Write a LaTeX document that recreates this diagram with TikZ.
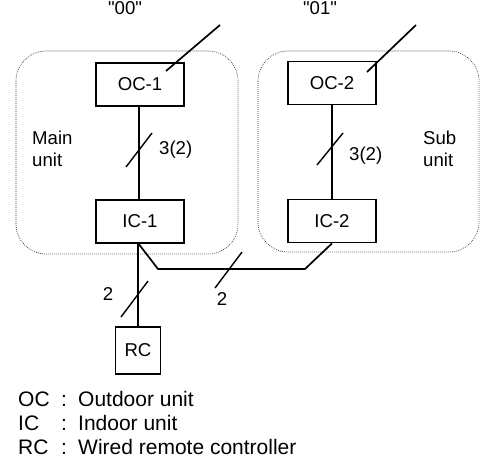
\documentclass[tikz,border=0pt]{standalone}
\usepackage{fontspec}
\setmainfont{Liberation Sans}
\newfontfamily\rawfont{Liberation Sans}[Ligatures=ResetAll]
\begin{document}
\begin{tikzpicture}[x=1pt,y=-1pt,
  unitbox/.style={draw, line width=1.7pt, minimum width=88pt, minimum height=43pt, inner sep=0pt, font=\fontsize{18.6}{22}\selectfont},
  wire/.style={line width=1.7pt},
  tick/.style={line width=1.4pt},
  grp/.style={draw=black!80, line width=0.7pt, dash pattern=on 0.8pt off 1.2pt, rounded corners=30pt},
  lbl/.style={inner sep=0pt, font=\fontsize{18.6}{22}\selectfont},
  leg/.style={inner sep=0pt, anchor=base west, font=\fontsize{21}{24}\selectfont}]
\useasboundingbox (0,0) rectangle (481,461);
% group outlines
\draw[grp] (16,51) rectangle (238,254);
\draw[grp] (258,51) rectangle (479,252);
% address labels
\node[lbl, anchor=base] (a00) at (125,14) {\rawfont "00"};
\node[lbl, anchor=base] (a01) at (320,14) {\rawfont "01"};
% units
\node[unitbox] (oc1) at (140,84.5) {OC-1};
\node[unitbox] (oc2) at (332,83) {OC-2};
\node[unitbox] (ic1) at (140,221.5) {IC-1};
\node[unitbox] (ic2) at (332,221) {IC-2};
\node[draw, line width=1.7pt, minimum width=45pt, minimum height=47pt, inner sep=0pt, font=\fontsize{18.6}{22}\selectfont] (rc) at (138,350.5) {RC};
% group names
\node[lbl, anchor=base west] (mainu) at (32,144) {Main};
\node[lbl, anchor=base west] (mainu2) at (32,166) {unit};
\node[lbl, anchor=base west] (subu) at (423,144) {Sub};
\node[lbl, anchor=base west] (subu2) at (423,166) {unit};
% outgoing transmission lines
\coordinate (t1a) at (166,71);
\coordinate (t1b) at (220,25);
\coordinate (t2a) at (367,72);
\coordinate (t2b) at (416,25);
\draw[wire] (t1a) -- (t1b);
\draw[wire] (t2a) -- (t2b);
% OC-IC connections
\draw[wire] (oc1.south -| 139,0) -- (ic1.north -| 139,0);
\draw[wire] (oc2.south) -- (ic2.north);
\draw[tick] (126,167) -- (152,133);
\draw[tick] (317,165) -- (343,133);
\node[lbl, anchor=base west] (n32a) at (159,154) {3(2)};
\node[lbl, anchor=base west] (n32b) at (349,160) {3(2)};
% IC-1 to RC
\coordinate (icb) at (138,243);
\draw[wire] (icb) -- (rc.north);
\draw[tick] (121,317) -- (148,281);
\node[lbl, anchor=base] (n2a) at (108,300) {2};
% IC-1 to IC-2
\coordinate (k1) at (158,269);
\coordinate (k2) at (305,269);
\draw[wire, line join=miter] (icb) -- (k1) -- (k2) -- (ic2.south);
\draw[tick] (215,288) -- (242,252);
\node[lbl, anchor=base] (n2b) at (222,305) {2};
% legend
\node[leg] (l1a) at (18,406) {OC};
\node[leg] (l1b) at (61,406) {:};
\node[leg] (l1c) at (78,406) {Outdoor unit};
\node[leg] (l2a) at (18,430) {IC};
\node[leg] (l2b) at (61,430) {:};
\node[leg] (l2c) at (78,430) {Indoor unit};
\node[leg] (l3a) at (18,454) {RC};
\node[leg] (l3b) at (61,454) {:};
\node[leg] (l3c) at (78,454) {Wired remote controller};
\end{tikzpicture}
\end{document}
